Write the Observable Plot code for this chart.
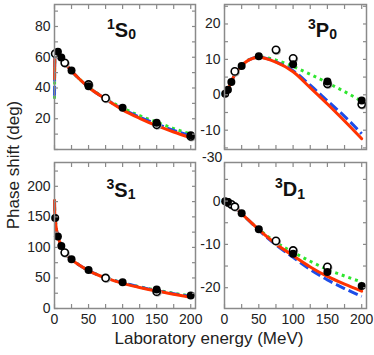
<!DOCTYPE html>
<html><head><meta charset="utf-8">
<script src="https://cdn.jsdelivr.net/npm/d3@7"></script>
<script src="https://cdn.jsdelivr.net/npm/@observablehq/plot@0.6"></script>
<style>
body{margin:0;background:#fff;}
#chart{position:relative;width:374px;height:355px;overflow:hidden;background:#fff;}
#chart svg{position:absolute;left:0;top:0;}
</style></head><body><div id="chart"></div>
<script>
// ---------- data ----------
const curveEnergy = [0.02, 0.3, 1, 3, 5, 10, 15, 25, 35, 50, 75, 100, 125, 150, 175, 200];

const s10Red   = [46, 57, 62, 63.6, 63.4, 60, 56.5, 51, 46.5, 40.5, 32.8, 25.8, 20.3, 15.5, 11.4, 7.7];
const s10Blue  = [35, 55, 62, 63.6, 63.4, 60, 56.5, 51, 46.5, 40.5, 32.9, 26.3, 21, 16.6, 12.4, 8.9];
const s10Green = [33, 54, 62, 63.6, 63.4, 60, 56.5, 51, 46.5, 40.6, 33.2, 27, 22, 17.8, 13.6, 10];
const s10FilledE = [5, 10, 25, 50, 100, 150, 200];
const s10FilledV = [63.6, 59.8, 51.3, 41.2, 27.2, 17.4, 9.2];
const s10OpenE = [1, 15, 50, 75, 150, 200];
const s10OpenV = [62.3, 56.4, 42.3, 33.4, 16.1, 8.5];

const p30Red   = [0, 0.05, 0.15, 0.8, 1.5, 3.7, 5.7, 8.2, 9.8, 10.6, 9.2, 6.5, 2, -2.6, -7.4, -12.4];
const p30Blue  = [0, 0.05, 0.15, 0.8, 1.5, 3.7, 5.7, 8.2, 9.8, 10.6, 9.3, 6.8, 2.7, -1.7, -6.1, -11];
const p30Green = [0, 0.05, 0.15, 0.8, 1.5, 3.7, 5.7, 8.2, 9.8, 10.7, 9.8, 8.0, 5.8, 3.4, 0.9, -1.8];
const p30FilledE = [1, 5, 10, 25, 50, 100, 150, 200];
const p30FilledV = [0.3, 1.4, 3.6, 8.1, 10.9, 8.6, 3.75, -1.6];
const p30OpenE = [15, 75, 100, 150, 200];
const p30OpenV = [6.6, 12.7, 10.3, 3.1, -2.7];

const s31Red   = [177, 158, 148, 128, 118, 102.5, 92, 80, 72, 62, 50, 41.2, 34.5, 28.5, 23.3, 18.5];
const s31Blue  = [177, 158, 148, 128, 118, 102.5, 92, 80, 72, 62, 50.3, 42, 35.2, 29.3, 24.3, 19.5];
const s31Green = [177, 158, 148, 128, 118, 102.5, 92, 80, 72, 62, 50.5, 42.2, 35.5, 29.8, 25, 20.3];
const s31FilledE = [1, 5, 10, 25, 50, 100, 150, 200];
const s31FilledV = [148, 118, 102.4, 80.6, 63.1, 43, 31, 21.3];
const s31OpenE = [15, 75, 150];
const s31OpenV = [91.5, 50, 27.5];

const d31Red   = [0, 0, -0.05, -0.1, -0.2, -0.7, -1.3, -2.9, -4.4, -6.6, -9.9, -12.6, -15.2, -17.4, -19.2, -20.8];
const d31Blue  = [0, 0, -0.05, -0.1, -0.2, -0.7, -1.3, -2.9, -4.4, -6.7, -10.1, -13, -15.8, -18.2, -20.2, -22];
const d31Green = [0, 0, -0.05, -0.1, -0.2, -0.7, -1.3, -2.9, -4.4, -6.5, -9.5, -11.8, -13.9, -15.8, -17.3, -18.7];
const d31FilledE = [1, 5, 25, 50, 100, 150, 200];
const d31FilledV = [-0.07, -0.2, -2.8, -6.5, -12.15, -16.4, -19.6];
const d31OpenE = [5, 10, 15, 75, 100, 150];
const d31OpenV = [-0.3, -0.75, -1.3, -9.2, -11.4, -15.2];

const xMinorTicks = [0, 25, 50, 75, 100, 125, 150, 175, 200];
const xTickLabels = [0, 50, 100, 150, 200];
const s10YTicks = [0, 10, 20, 30, 40, 50, 60, 70, 80, 90];
const s10YLabels = [20, 40, 60, 80];
const p30YTicks = [-15, -10, -5, 0, 5, 10, 15, 20, 25];
const p30YLabels = [-10, 0, 10, 20];
const s31YTicks = [0, 25, 50, 75, 100, 125, 150, 175, 200, 225];
const s31YLabels = [0, 50, 100, 150, 200];
const d31YTicks = [-20, -15, -10, -5, 0, 5];
const d31YLabels = [-20, -10, 0];
const strayLabel = "-30";

// ---------- layout ----------
const W = 374, H = 355;
const COLORS = {red: "#ff3300", blue: "#1d4de8", green: "#2fe62f", frame: "#8a8a8a", text: "#222"};
const FONT = "'Liberation Sans', Arial, Helvetica, sans-serif";

const panels = [
  {l: 54, r: 195, t: 4, b: 149, yDomain: [0, 94.3], red: s10Red, blue: s10Blue, green: s10Green,
   fE: s10FilledE, fV: s10FilledV, oE: s10OpenE, oV: s10OpenV, yTicks: s10YTicks, yLabels: s10YLabels, xLabels: false},
  {l: 224, r: 366, t: 4, b: 149, yDomain: [-15.45, 25.5], red: p30Red, blue: p30Blue, green: p30Green,
   fE: p30FilledE, fV: p30FilledV, oE: p30OpenE, oV: p30OpenV, yTicks: p30YTicks, yLabels: p30YLabels, xLabels: false},
  {l: 54, r: 195, t: 162, b: 308, yDomain: [0, 239], red: s31Red, blue: s31Blue, green: s31Green,
   fE: s31FilledE, fV: s31FilledV, oE: s31OpenE, oV: s31OpenV, yTicks: s31YTicks, yLabels: s31YLabels, xLabels: true},
  {l: 224, r: 366, t: 162, b: 308, yDomain: [-24.8, 8.9], red: d31Red, blue: d31Blue, green: d31Green,
   fE: d31FilledE, fV: d31FilledV, oE: d31OpenE, oV: d31OpenV, yTicks: d31YTicks, yLabels: d31YLabels, xLabels: true}
];

const zip = (es, vs) => es.map((e, i) => ({e, v: vs[i]}));

function makePanel(p) {
  const line = (vals, opts) => Plot.line(zip(curveEnergy, vals),
    {x: "e", y: "v", curve: "monotone-x", strokeWidth: 3, ...opts});
  const open = zip(p.oE, p.oV), filled = zip(p.fE, p.fV);
  const tickOpts = {tickSize: -4, fill: "none", stroke: COLORS.frame, strokeWidth: 1.2, label: null};
  return Plot.plot({
    width: W, height: H,
    marginLeft: p.l, marginRight: W - p.r, marginTop: p.t, marginBottom: H - p.b,
    x: {domain: [0, 207]},
    y: {domain: p.yDomain},
    style: {background: "transparent", fontFamily: FONT, fontSize: "14px", color: COLORS.text, overflow: "visible"},
    marks: [
      line(p.green, {stroke: COLORS.green, strokeDasharray: "3,4", strokeLinecap: "butt"}),
      line(p.blue, {stroke: COLORS.blue, strokeDasharray: "10,4", strokeLinecap: "butt"}),
      line(p.red, {stroke: COLORS.red}),
      Plot.dot(open, {x: "e", y: "v", r: 4.3, fill: "#aaa", dx: 0.8, dy: 0.8}),
      Plot.dot(open, {x: "e", y: "v", r: 3.6, fill: "white", stroke: "black", strokeWidth: 1.6}),
      Plot.dot(filled, {x: "e", y: "v", r: 4, fill: "black"}),
      Plot.frame({stroke: COLORS.frame, strokeWidth: 1.5}),
      Plot.axisX(xMinorTicks, {anchor: "bottom", ...tickOpts}),
      Plot.axisX(xMinorTicks, {anchor: "top", ...tickOpts}),
      Plot.axisY(p.yTicks, {anchor: "left", ...tickOpts}),
      Plot.axisY(p.yTicks, {anchor: "right", ...tickOpts}),
      Plot.axisY(p.yLabels, {anchor: "left", tickSize: 0, tickPadding: 4, tickFormat: d => String(d), label: null, fill: COLORS.text}),
      p.xLabels ? Plot.axisX(xTickLabels, {anchor: "bottom", tickSize: 0, tickPadding: 6, tickFormat: d => String(d), label: null, fill: COLORS.text}) : null
    ]
  });
}

const chart = document.getElementById("chart");
panels.forEach(p => chart.appendChild(makePanel(p)));

// ---------- text overlay (titles, axis titles) ----------
const titles = [
  {x: 107, y: 36.7, sup: "1", main: "S", sub: "0"},
  {x: 308, y: 36.7, sup: "3", main: "P", sub: "0"},
  {x: 106.5, y: 196.5, sup: "3", main: "S", sub: "1"},
  {x: 275, y: 196, sup: "3", main: "D", sub: "1"}
];
const svg = d3.select(chart).append("svg").attr("width", W).attr("height", H)
  .style("font-family", FONT).style("overflow", "visible");
titles.forEach(t => {
  const tx = svg.append("text").attr("x", t.x).attr("y", t.y).attr("font-weight", "bold").attr("fill", "#111");
  tx.append("tspan").attr("font-size", 14).attr("dy", -8).text(t.sup);
  tx.append("tspan").attr("font-size", 20).attr("dy", 8).text(t.main);
  tx.append("tspan").attr("font-size", 14).attr("dy", 2.5).text(t.sub);
});
svg.append("text").attr("transform", "translate(18.5,165) rotate(-90)").attr("text-anchor", "middle")
  .attr("font-size", 17).attr("fill", COLORS.text).text("Phase shift (deg)");
svg.append("text").attr("x", 209).attr("y", 343.5).attr("text-anchor", "middle")
  .attr("font-size", 17).attr("fill", COLORS.text).text("Laboratory energy (MeV)");
svg.append("text").attr("x", 202).attr("y", 162).attr("font-size", 14).attr("fill", COLORS.text).text(strayLabel);
</script>
</body></html>
